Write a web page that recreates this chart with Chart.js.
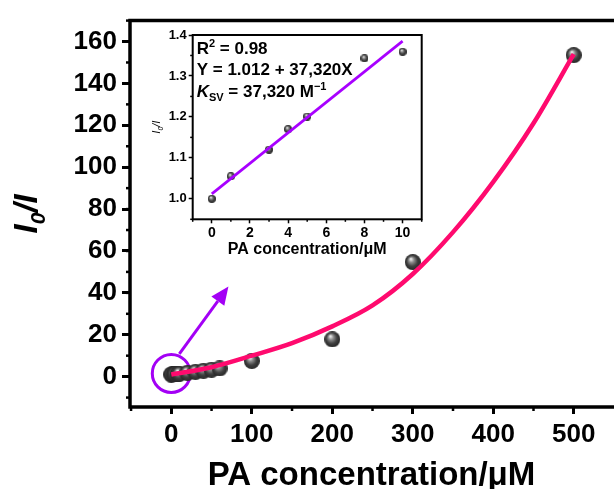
<!DOCTYPE html>
<html>
<head>
<meta charset="utf-8">
<script src="https://cdn.jsdelivr.net/npm/chart.js@4.4.1/dist/chart.umd.min.js"></script>
<style>
  body { margin: 0; background: #fff; }
  #wrap { position: relative; width: 614px; height: 489px; overflow: hidden; }
  #inset { position: absolute; left: 140px; top: 25px; }
</style>
</head>
<body>
<div id="wrap">
  <canvas id="mainChart" width="614" height="489"></canvas>
  <canvas id="inset" width="300" height="240"></canvas>
</div>
<script>
// datos medidos: I0/I contra concentracion de PA (uM)
const concX = [0, 1, 3, 4, 5, 8, 10, 20, 30, 40, 50, 60, 100, 200, 300, 500]
const ratioY = [1.0, 1.055, 1.12, 1.17, 1.201, 1.343, 1.359, 1.8, 2.3, 2.8, 3.3, 3.9, 7.5, 17.8, 54.7, 153.5]

// curva de ajuste (rosa)
const fitX = [0, 50, 100, 150, 200, 250, 300, 350, 400, 450, 500]
const fitY = [1, 4.5, 10, 16, 24, 34, 49, 69, 93, 121, 154]

// zona lineal (inset)
const insetX = [0, 1, 3, 4, 5, 8, 10]
const insetY = [1.0, 1.055, 1.12, 1.17, 1.201, 1.343, 1.359]
const lineX = [0, 10]
const lineY = [1.012, 1.385]

// ticks
const xTicks = [0, 100, 200, 300, 400, 500]
const yTicks = [0, 20, 40, 60, 80, 100, 120, 140, 160]
const insetXTicks = [0, 2, 4, 6, 8, 10]
const insetYTicks = [1.0, 1.1, 1.2, 1.3, 1.4]

const FONT = "'Liberation Sans', Arial, sans-serif"

function pares(xs, ys) {
    return xs.map((x, i) => ({ x: x, y: ys[i] }))
}

// bolita gris con brillo
function bolita(r) {
    var c = document.createElement('canvas')
    c.width = c.height = r * 2
    var g = c.getContext('2d')
    var grad = g.createRadialGradient(r * 0.75, r * 0.6, r * 0.05, r, r, r)
    grad.addColorStop(0, '#f2f2f2')
    grad.addColorStop(0.3, '#8c8c8c')
    grad.addColorStop(0.65, '#404040')
    grad.addColorStop(1, '#262626')
    g.fillStyle = grad
    g.beginPath()
    g.arc(r, r, r, 0, Math.PI * 2)
    g.fill()
    return c
}

// texto con sub/superindices
function texto(ctx, partes, x, y) {
    partes.forEach(p => {
        ctx.font = p.f
        ctx.fillText(p.t, x, y + (p.dy || 0))
        x += ctx.measureText(p.t).width
    })
}
function anchoTexto(ctx, partes) {
    var w = 0
    partes.forEach(p => { ctx.font = p.f; w += ctx.measureText(p.t).width })
    return w
}

function ticksMenores(ctx, scale, desde, hasta, paso, len, eje, pos) {
    for (var v = desde; v <= hasta + 1e-9; v += paso) {
        var p = scale.getPixelForValue(v)
        ctx.beginPath()
        if (eje == 'x') { ctx.moveTo(p, pos); ctx.lineTo(p, pos + len) }
        else { ctx.moveTo(pos, p); ctx.lineTo(pos - len, p) }
        ctx.stroke()
    }
}

const marcoPrincipal = {
    id: 'marcoPrincipal',
    beforeDatasetsDraw(chart) {
        // circulo y flecha que senalan la zona ampliada
        var ctx = chart.ctx, x = chart.scales.x, y = chart.scales.y
        ctx.save()
        ctx.strokeStyle = '#A300F5'
        ctx.fillStyle = '#A300F5'
        ctx.lineWidth = 3
        ctx.beginPath()
        ctx.arc(x.getPixelForValue(0), y.getPixelForValue(1.5), 19, 0, Math.PI * 2)
        ctx.stroke()
        var x0 = x.getPixelForValue(10), y0 = y.getPixelForValue(10.9)
        var x1 = x.getPixelForValue(71), y1 = y.getPixelForValue(43)
        var ang = Math.atan2(y1 - y0, x1 - x0)
        var L = 18, W = 8
        var bx = x1 - L * Math.cos(ang), by = y1 - L * Math.sin(ang)
        ctx.beginPath()
        ctx.moveTo(x0, y0)
        ctx.lineTo(bx, by)
        ctx.stroke()
        ctx.beginPath()
        ctx.moveTo(x1, y1)
        ctx.lineTo(bx + W * Math.sin(ang), by - W * Math.cos(ang))
        ctx.lineTo(bx - W * Math.sin(ang), by + W * Math.cos(ang))
        ctx.closePath()
        ctx.fill()
        ctx.restore()
    },
    afterDraw(chart) {
        var ctx = chart.ctx, a = chart.chartArea
        ctx.save()
        ctx.strokeStyle = '#000'
        ctx.lineWidth = 3.5
        ctx.beginPath()
        ctx.moveTo(chart.width + 5, a.top)
        ctx.lineTo(a.left, a.top)
        ctx.lineTo(a.left, a.bottom)
        ctx.lineTo(chart.width + 5, a.bottom)
        ctx.stroke()
        ctx.lineWidth = 2.5
        ticksMenores(ctx, chart.scales.x, -50, 540, 50, 4, 'x', a.bottom)
        ticksMenores(ctx, chart.scales.y, -10, 170, 10, 4, 'y', a.left)

        // titulos
        ctx.fillStyle = '#000'
        ctx.textBaseline = 'alphabetic'
        ctx.textAlign = 'center'
        ctx.font = 'bold 33px ' + FONT
        ctx.fillText('PA concentration/\u03bcM', (a.left + a.right) / 2 + 2, 485)

        ctx.textAlign = 'left'
        var partes = [
            { t: 'I', f: 'italic bold 33px ' + FONT },
            { t: '0', f: 'italic bold 21px ' + FONT, dy: 8 },
            { t: '/I', f: 'italic bold 33px ' + FONT }
        ]
        var w = anchoTexto(ctx, partes)
        ctx.translate(37, (a.top + a.bottom) / 2)
        ctx.rotate(-Math.PI / 2)
        texto(ctx, partes, -w / 2, 0)
        ctx.restore()
    }
}

const marcoInset = {
    id: 'marcoInset',
    afterDraw(chart) {
        var ctx = chart.ctx, a = chart.chartArea
        ctx.save()
        ctx.strokeStyle = '#000'
        ctx.lineWidth = 2
        ctx.strokeRect(a.left, a.top, a.right - a.left, a.bottom - a.top)
        ctx.lineWidth = 1.5
        ticksMenores(ctx, chart.scales.x, -1, 11, 2, 2.5, 'x', a.bottom)
        ticksMenores(ctx, chart.scales.y, 0.95, 1.4, 0.1, 2.5, 'y', a.left)

        ctx.fillStyle = '#000'
        ctx.textBaseline = 'alphabetic'
        ctx.textAlign = 'center'
        ctx.font = 'bold 16px ' + FONT
        ctx.fillText('PA concentration/\u03bcM', (a.left + a.right) / 2, 229)

        ctx.textAlign = 'left'
        var f = 'bold 17px ' + FONT, fs = 'bold 11px ' + FONT
        var x = a.left + 4
        texto(ctx, [{ t: 'R', f: f }, { t: '2', f: fs, dy: -7 }, { t: ' = 0.98', f: f }], x, a.top + 19)
        texto(ctx, [{ t: 'Y = 1.012 + 37,320X', f: f }], x, a.top + 40)
        texto(ctx, [
            { t: 'K', f: 'italic bold 17px ' + FONT },
            { t: 'SV', f: fs, dy: 4 },
            { t: ' = 37,320 M', f: f },
            { t: '\u22121', f: fs, dy: -7 }
        ], x, a.top + 62)

        var partes = [
            { t: 'I', f: 'italic 11px ' + FONT },
            { t: '0', f: 'italic 7px ' + FONT, dy: 3 },
            { t: '/I', f: 'italic 11px ' + FONT }
        ]
        var w = anchoTexto(ctx, partes)
        ctx.translate(a.left - 33, (a.top + a.bottom) / 2)
        ctx.rotate(-Math.PI / 2)
        texto(ctx, partes, -w / 2, 0)
        ctx.restore()
    }
}

var ctx = document.getElementById('mainChart')
var myChart = new Chart(ctx, {
    type: 'scatter',
    data: {
        datasets: [
            {
                label: 'fit',
                data: pares(fitX, fitY),
                showLine: true,
                cubicInterpolationMode: 'monotone',
                borderColor: '#FF0A6E',
                borderWidth: 4.5,
                pointRadius: 0,
                order: 0
            },
            {
                label: 'I0/I',
                data: pares(concX, ratioY),
                pointStyle: bolita(8),
                order: 1
            }
        ]
    },
    options: {
        responsive: false,
        animation: false,
        events: [],
        layout: { padding: { top: 16, right: 0, left: 0, bottom: 0 } },
        plugins: { legend: { display: false }, tooltip: { enabled: false } },
        scales: {
            x: {
                type: 'linear',
                min: -51.3,
                max: 543.8,
                afterFit: s => { s.height = 82 },
                afterBuildTicks: s => { s.ticks = xTicks.map(v => ({ value: v })) },
                border: { display: false },
                grid: { drawOnChartArea: false, drawTicks: true, tickLength: 7, tickWidth: 3, tickColor: '#000' },
                ticks: { color: '#000', padding: 5, maxRotation: 0, font: { family: FONT, size: 26, weight: 'bold' } }
            },
            y: {
                type: 'linear',
                min: -14.5,
                max: 170,
                afterFit: s => { s.width = 130 },
                afterBuildTicks: s => { s.ticks = yTicks.map(v => ({ value: v })) },
                border: { display: false },
                grid: { drawOnChartArea: false, drawTicks: true, tickLength: 8, tickWidth: 3, tickColor: '#000' },
                ticks: { color: '#000', padding: 5, font: { family: FONT, size: 26, weight: 'bold' } }
            }
        }
    },
    plugins: [marcoPrincipal]
})

var ctx2 = document.getElementById('inset')
var insetChart = new Chart(ctx2, {
    type: 'scatter',
    data: {
        datasets: [
            {
                label: 'lineal',
                data: pares(lineX, lineY),
                showLine: true,
                borderColor: '#A800FF',
                borderWidth: 2.7,
                pointRadius: 0,
                order: 0
            },
            {
                label: 'datos',
                data: pares(insetX, insetY),
                pointStyle: bolita(4),
                order: 1
            }
        ]
    },
    options: {
        responsive: false,
        animation: false,
        events: [],
        layout: { padding: { top: 10, right: 18.3, left: 0, bottom: 0 } },
        plugins: { legend: { display: false }, tooltip: { enabled: false } },
        scales: {
            x: {
                type: 'linear',
                min: -1,
                max: 11,
                afterFit: s => { s.height = 45.7 },
                afterBuildTicks: s => { s.ticks = insetXTicks.map(v => ({ value: v })) },
                border: { display: false },
                grid: { drawOnChartArea: false, drawTicks: true, tickLength: 4, tickWidth: 1.5, tickColor: '#000' },
                ticks: { color: '#000', padding: 1, maxRotation: 0, font: { family: FONT, size: 14, weight: 'bold' } }
            },
            y: {
                type: 'linear',
                min: 0.95,
                max: 1.4,
                afterFit: s => { s.width = 52.7 },
                afterBuildTicks: s => { s.ticks = insetYTicks.map(v => ({ value: v })) },
                border: { display: false },
                grid: { drawOnChartArea: false, drawTicks: true, tickLength: 4, tickWidth: 1.5, tickColor: '#000' },
                ticks: {
                    color: '#000', padding: 2,
                    font: { family: FONT, size: 13, weight: 'bold' },
                    callback: v => v.toFixed(1)
                }
            }
        }
    },
    plugins: [marcoInset]
})
</script>
</body>
</html>
